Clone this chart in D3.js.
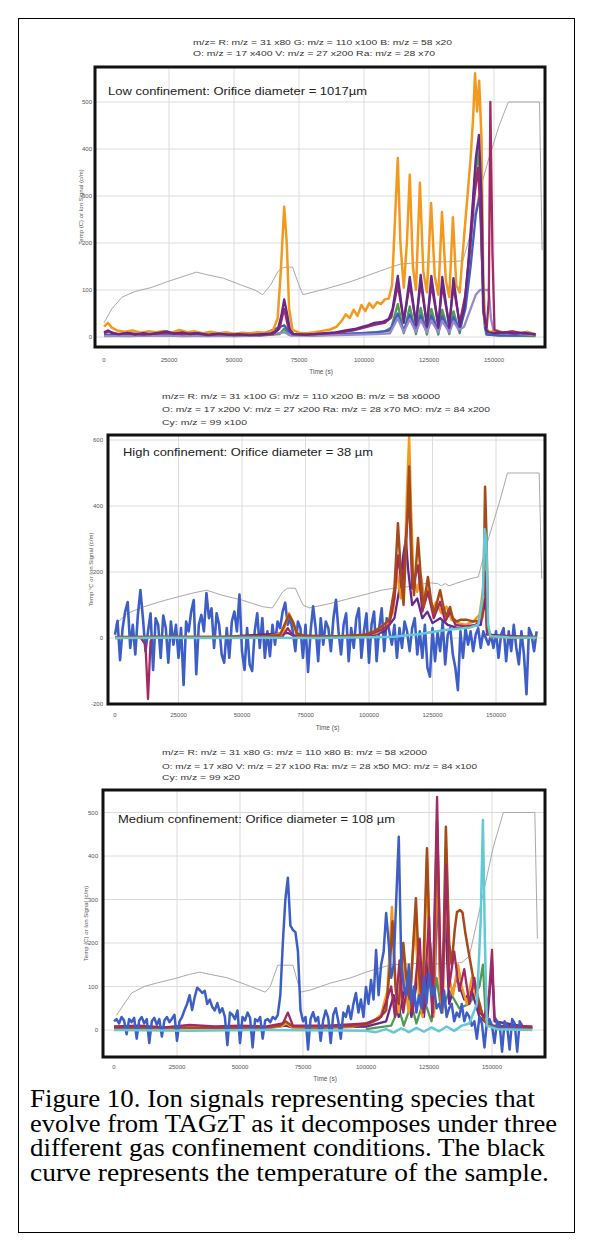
<!DOCTYPE html>
<html><head><meta charset="utf-8">
<script src="https://cdn.jsdelivr.net/npm/d3@7"></script>
<style>body{margin:0;background:#fff}svg{display:block}</style>
</head><body><svg id="c" width="593" height="1251"></svg>
<script>
// ---------------- DATA ----------------
const xTicks = [0, 25000, 50000, 75000, 100000, 125000, 150000];
const p1YTicks = [0, 100, 200, 300, 400, 500];
const p2YTicks = [-200, 0, 200, 400, 600];
const p3YTicks = [0, 100, 200, 300, 400, 500];

const p1Header = ["m/z= R: m/z = 31 x80 G: m/z = 110 x100 B: m/z = 58 x20",
                  "O: m/z = 17 x400 V: m/z = 27 x200 Ra: m/z = 28 x70"];
const p2Header = ["m/z= R: m/z = 31 x100 G: m/z = 110 x200 B: m/z = 58 x6000",
                  "O: m/z = 17 x200 V: m/z = 27 x200 Ra: m/z = 28 x70 MO: m/z = 84 x200",
                  "Cy: m/z = 99 x100"];
const p3Header = ["m/z= R: m/z = 31 x80 G: m/z = 110 x80 B: m/z = 58 x2000",
                  "O: m/z = 17 x80 V: m/z = 27 x100 Ra: m/z = 28 x50 MO: m/z = 84 x100",
                  "Cy: m/z = 99 x20"];
const panelTitles = ["Low confinement: Orifice diameter = 1017µm",
                     "High confinement: Orifice diameter = 38 µm",
                     "Medium confinement: Orifice diameter = 108 µm"];
const yTitles = ["Temp (C) or Ion Signal (c/m)", "Temp °C or Ion Signal (c/m)", "Temp (C) or Ion Signal (c/m)"];
const xTitle = "Time (s)";
const caption = ["Figure 10. Ion signals representing species that",
                 "evolve from TAGzT as it decomposes under three",
                 "different gas confinement conditions.  The black",
                 "curve represents the temperature of the sample."];

// Panel 1 (low confinement)
const p1Temp = [[0,30],[3000,60],[7000,85],[12000,97],[18000,105],[24000,117],[30000,128],[35500,138],[40000,132],[46000,125],[53000,110],[58000,100],[61000,90],[64000,110],[67000,140],[69000,148],[72500,149],[75000,110],[76500,90],[80000,95],[85000,102],[90000,110],[95000,118],[101000,130],[106000,140],[110000,148],[114000,155],[120000,158],[126000,160],[132000,160],[138000,162],[141000,220],[144000,300],[148000,380],[152000,450],[155500,500],[167500,500],[168500,185]];
const p1Orange = [[0,22],[1500,30],[3000,20],[5000,14],[8000,11],[11000,14],[14000,9],[17000,12],[20000,10],[23000,13],[26000,9],[29000,15],[32000,10],[35000,12],[38000,8],[41000,11],[44000,8],[47000,10],[50000,7],[53000,9],[56000,8],[59000,10],[62000,9],[65000,14],[66800,40],[68000,140],[69300,277],[70300,200],[71200,60],[72500,15],[75000,9],[78000,8],[81000,10],[84000,13],[87000,16],[89500,22],[91500,35],[93000,48],[94500,40],[96000,58],[97500,45],[99000,68],[100500,55],[102000,72],[103500,62],[105000,74],[106500,70],[108000,80],[109500,82],[110800,110],[112000,260],[113000,381],[114000,200],[115300,105],[116500,200],[117600,345],[118800,150],[120000,100],[121500,328],[122800,140],[124200,95],[125800,285],[127200,130],[128600,90],[130000,266],[131500,120],[132800,85],[134200,255],[135500,110],[136800,95],[138000,180],[139500,280],[141000,380],[142000,470],[142700,561],[143500,480],[144300,545],[145200,420],[145900,120],[146600,25],[148000,10],[151000,14],[154000,9],[157000,12],[160000,8],[163000,11],[166000,6]];
const p1Purple = [[0,10],[1500,14],[3000,8],[6000,6],[9000,9],[12000,5],[15000,8],[18000,6],[21000,9],[24000,12],[27000,7],[30000,10],[33000,6],[36000,8],[40000,5],[44000,7],[48000,5],[52000,6],[56000,4],[60000,6],[64000,7],[66800,15],[68200,45],[69300,80],[70400,50],[71500,15],[73000,6],[77000,5],[81000,6],[85000,8],[89000,10],[93000,14],[97000,18],[101000,24],[104000,30],[107000,32],[109500,38],[111000,60],[113000,130],[115300,30],[117600,128],[120000,25],[121800,132],[124200,22],[125900,130],[128600,20],[130100,128],[132800,20],[134400,125],[136800,22],[138500,60],[140000,150],[141500,260],[143000,380],[144200,430],[145200,300],[146000,60],[147000,15],[148000,10],[150000,8],[154000,10],[158000,7],[162000,9],[166000,5]];
const p1Magenta = [[0,8],[2000,12],[5000,6],[10000,8],[15000,5],[20000,7],[25000,9],[30000,6],[35000,8],[40000,4],[45000,6],[50000,4],[55000,5],[60000,4],[65000,6],[67500,18],[69300,60],[70800,22],[72500,6],[78000,5],[84000,7],[90000,9],[96000,14],[100000,20],[104000,26],[108000,30],[110500,42],[113000,110],[115300,35],[117600,112],[120000,30],[121800,115],[124200,28],[125900,112],[128600,25],[130100,110],[132800,25],[134400,108],[136800,30],[139000,90],[141000,200],[142500,300],[143800,360],[145000,250],[146000,50],[147200,20],[148000,80],[148600,500],[149400,180],[150200,15],[153000,9],[157000,12],[161000,8],[166000,6]];
const p1Green = [[0,3],[10000,2],[20000,4],[30000,2],[40000,3],[50000,2],[60000,3],[67500,6],[69300,18],[71000,5],[80000,3],[90000,5],[100000,8],[108000,12],[110500,20],[113000,70],[115300,8],[117600,65],[120000,6],[121800,62],[124200,5],[125900,60],[128600,5],[130100,58],[132800,6],[134400,55],[136800,8],[139000,80],[141000,200],[142500,330],[143600,400],[144800,300],[145800,60],[147000,5],[155000,3],[166000,2]];
const p1Violet = [[0,2],[20000,3],[40000,2],[60000,3],[69300,10],[72000,3],[90000,4],[105000,6],[110000,8],[113000,40],[115300,10],[117600,38],[120000,10],[121800,36],[124200,10],[125900,35],[128600,10],[130100,34],[132800,10],[134400,33],[136500,15],[138500,22],[141000,60],[143000,90],[144600,100],[148000,100],[148800,40],[150000,10],[166000,4]];
const p1Blue = [[0,5],[15000,4],[30000,6],[45000,3],[60000,4],[69300,25],[72000,5],[90000,6],[105000,10],[110000,14],[113000,50],[115300,12],[117600,48],[120000,12],[121800,46],[124200,12],[125900,45],[128600,12],[130100,44],[132800,12],[134400,42],[136800,14],[139000,60],[141000,150],[143000,260],[144500,300],[145500,150],[146500,20],[147500,5],[152000,3],[166000,4]];

// Panel 2 (high confinement)
const p2Temp = [[0,40],[5000,75],[11000,94],[20000,115],[30000,135],[36000,145],[42000,130],[50000,115],[58000,95],[62000,91],[66000,140],[68000,151],[71000,151],[74000,100],[76500,91],[85000,105],[95000,125],[105000,145],[110000,151],[113000,152],[118000,160],[124000,167],[127000,165],[128500,158],[130000,165],[131500,158],[134000,165],[140000,180],[143000,185],[147000,300],[151600,418],[154500,500],[167000,500],[168000,180]];
const p2BlueStep = 1000;
const p2Blue = [10,52,-67,30,80,109,-30,40,-50,70,145,60,-40,20,75,-97,60,40,-60,68,30,-75,50,-20,40,-60,30,-142,50,20,80,115,-110,40,70,20,136,60,90,-30,75,40,-50,-75,30,-60,50,80,20,132,-40,-97,30,-80,-100,20,75,-30,60,-60,20,-55,40,-20,50,30,80,107,40,60,20,-40,50,30,-60,40,-103,20,96,30,-70,60,-20,50,30,-40,60,116,20,-50,40,75,-70,30,-30,60,90,-60,20,75,-75,40,80,-70,30,90,-40,60,20,-20,40,-60,30,-30,50,20,-40,30,60,-50,20,-60,40,-90,-117,30,-70,20,-40,50,-80,10,30,-50,-90,-158,20,-60,30,-20,20,-40,10,30,-30,20,0,-20,10,-30,20,-60,10,30,-70,20,-40,40,-30,-80,20,-50,-170,30,10,-40,20];
const p2Magenta = [[0,0],[10000,2],[12000,-20],[13000,-185],[14000,-10],[15000,3],[30000,2],[50000,3],[66000,5],[68000,30],[70000,8],[90000,5],[100000,10],[105000,25],[108000,40],[110000,120],[111400,250],[113000,150],[114500,300],[115800,430],[117000,150],[119300,220],[121000,80],[123200,140],[125500,60],[128000,110],[130000,50],[132000,80],[134000,40],[138000,35],[142000,40],[144500,60],[145700,200],[146500,20],[148000,5],[166000,3]];
const p2Brown = [[0,3],[20000,4],[40000,3],[60000,5],[65000,10],[67000,45],[68500,70],[70000,50],[71500,15],[75000,5],[90000,6],[98000,10],[102000,20],[105000,35],[108000,55],[110000,150],[111400,348],[112500,200],[113600,100],[115000,350],[115800,520],[116800,250],[117700,130],[119300,303],[120700,150],[121500,95],[123200,185],[124500,110],[125700,75],[128000,145],[129300,95],[130300,65],[131900,94],[133000,60],[134500,50],[136000,55],[138600,55],[141000,50],[143000,52],[144500,60],[145200,200],[145700,458],[146300,300],[146800,30],[148000,5],[155000,4],[166000,3]];
const p2Orange = [[0,2],[30000,3],[60000,4],[66000,15],[68500,75],[70500,40],[72000,5],[95000,5],[103000,15],[107000,35],[109500,80],[111000,200],[112500,120],[114000,200],[115000,450],[115800,609],[116600,380],[117500,180],[119000,140],[120400,190],[122000,110],[123500,150],[125000,85],[126500,110],[128500,75],[130500,95],[132500,55],[135000,45],[138000,40],[141000,50],[143500,70],[145000,150],[145700,250],[146500,20],[148000,3],[166000,2]];
const p2Purple = [[0,1],[40000,2],[68000,15],[72000,2],[100000,5],[106000,20],[110000,60],[112000,150],[113500,250],[114500,300],[115500,200],[117000,100],[119000,120],[121000,60],[123000,80],[125000,45],[128000,60],[131000,40],[135000,30],[140000,35],[144000,40],[145700,120],[146500,10],[166000,1]];
const p2Cyan = [[0,0],[20000,1],[40000,0],[60000,1],[80000,0],[100000,2],[110000,4],[115000,8],[120000,12],[125000,18],[130000,24],[135000,28],[140000,32],[143000,40],[144800,120],[145500,330],[146200,300],[146900,40],[147800,5],[155000,2],[166000,1]];

// Panel 3 (medium confinement)
const p3Temp = [[1000,34],[7000,85],[12000,100],[17000,108],[24000,118],[30000,128],[34000,133],[38000,128],[45000,120],[52000,105],[60000,87],[62000,100],[65000,149],[71000,149],[74000,87],[78000,92],[86000,108],[94000,120],[100000,133],[104000,140],[110000,150],[120000,153],[130000,152],[138000,155],[141000,170],[146000,300],[150500,420],[154500,500],[167000,500],[168000,210]];
const p3BlueStep = 1000;
const p3Blue = [20,25,15,30,22,-10,25,18,28,-20,22,30,15,25,-30,20,28,12,25,-15,22,30,18,26,35,-25,20,30,46,60,80,46,75,97,92,85,90,60,70,53,45,62,40,50,30,-35,40,35,25,45,-30,30,22,40,28,-40,25,20,30,-20,22,25,18,30,25,35,80,200,300,350,240,230,225,180,46,20,30,-45,25,41,20,30,-25,22,45,28,-30,35,50,20,-20,40,30,55,25,60,85,40,70,30,99,60,115,70,184,80,150,180,269,200,120,150,300,444,150,100,80,150,60,100,40,80,50,120,60,130,80,100,50,60,40,90,30,50,60,20,40,30,60,20,40,30,10,20,-20,30,15,-40,20,25,10,-30,20,15,-50,20,10,-45,25,15,-50,20,10];
const p3Brown = [[0,5],[20000,6],[40000,5],[60000,6],[66000,10],[68000,20],[71000,8],[90000,8],[100000,12],[105000,25],[108000,45],[109500,150],[110500,250],[111800,90],[113000,60],[114800,200],[116000,120],[117500,70],[119800,303],[121200,120],[122300,50],[124200,418],[125500,150],[126500,40],[128200,480],[129500,150],[130300,60],[131700,467],[133000,200],[134000,150],[135200,230],[136100,271],[137300,276],[138300,270],[139500,220],[141000,170],[142500,120],[144000,85],[145500,50],[147000,20],[149000,12],[152000,8],[160000,6],[166000,5]];
const p3Orange = [[0,3],[30000,4],[60000,5],[66000,8],[68500,15],[71000,5],[95000,8],[103000,20],[106000,35],[108500,90],[110300,283],[111500,120],[113000,40],[114500,180],[115500,100],[117000,40],[119500,250],[121000,80],[122500,30],[124200,400],[125500,100],[126800,30],[128200,430],[129500,90],[130500,40],[131700,420],[133000,120],[134500,80],[136500,150],[138000,100],[140000,60],[142000,120],[143500,80],[145000,60],[146500,30],[148000,10],[152000,5],[166000,4]];
const p3Magenta = [[0,8],[10000,10],[20000,6],[30000,12],[40000,8],[50000,10],[60000,8],[67000,15],[69000,40],[71000,10],[85000,10],[100000,15],[106000,30],[110000,100],[111500,30],[113300,160],[114800,40],[117000,130],[118500,40],[121300,210],[122800,40],[125000,260],[126300,30],[128200,536],[129300,200],[130200,50],[131800,380],[133000,100],[135000,180],[137000,90],[139000,140],[141000,60],[143000,120],[145000,40],[147000,30],[148800,80],[150000,184],[151000,30],[153000,10],[166000,8]];
const p3Purple = [[0,4],[30000,5],[60000,4],[68000,10],[72000,4],[100000,8],[108000,20],[111000,80],[113000,30],[116000,110],[118000,30],[121000,140],[123000,30],[125500,200],[127000,40],[128300,350],[129500,80],[131500,250],[133000,60],[136000,120],[139000,70],[142000,90],[145000,30],[148000,15],[150000,150],[151000,20],[166000,5]];
const p3Cyan = [[0,0],[30000,-2],[60000,0],[90000,-1],[100000,-2],[104000,-5],[108000,2],[111000,-6],[114000,4],[117000,-5],[120000,5],[123000,-4],[126000,6],[129000,-3],[132000,8],[135000,-2],[138000,10],[141000,15],[144000,60],[145500,250],[146400,483],[147200,200],[148000,10],[152000,2],[166000,0]];
const p3Green = [[100000,2],[110000,10],[113000,50],[115000,10],[118000,60],[120000,15],[123000,70],[126000,20],[128000,120],[130000,40],[133000,90],[137000,50],[141000,60],[145000,100],[146400,150],[147500,30],[150000,5]];

// ---------------- STYLE / LAYOUT ----------------
const C = {temp:"#a9a9a9", orange:"#f39a1e", purple:"#64298a", magenta:"#a22a62", green:"#4f9a54",
           violet:"#9a88c8", blue:"#3d5ec6", cyan:"#63c9d6", brown:"#a64a1a"};
const toPairs = (vals, step) => vals.map((v,i)=>[i*step, v]);

const panels = [
  {frame:[95,67,545,347], xr:[104,494], yd:[0,500], yr:[337,102], yticks:p1YTicks, ytickX:92,
   header:p1Header, hx:193, hy:[45,56], hw:[259,242], hfs:7,
   title:panelTitles[0], tx:108, ty:95, tw:259, tfs:10,
   ytitle:yTitles[0], ytx:83, xlabY:362, timeY:374,
   series:[[p1Temp,C.temp,1],[p1Green,C.green,2.3],[p1Blue,C.blue,2.3],[p1Violet,C.violet,2.3],[p1Orange,C.orange,2.5],[p1Magenta,C.magenta,2.3],[p1Purple,C.purple,2.3]]},
  {frame:[108,435,545,704], xr:[115,496], yd:[-200,600], yr:[704,440], yticks:p2YTicks, ytickX:103,
   header:p2Header, hx:162, hy:[399,412,425], hw:[278,328,85], hfs:7.5,
   title:panelTitles[1], tx:123, ty:456, tw:250, tfs:11,
   ytitle:yTitles[1], ytx:93, xlabY:717, timeY:730,
   series:[[p2Temp,C.temp,1],[toPairs(p2Blue,p2BlueStep),C.blue,2.6],[p2Purple,C.purple,2.3],[p2Orange,C.orange,2.5],[p2Magenta,C.magenta,2.3],[p2Brown,C.brown,2.5],[p2Cyan,C.cyan,2.5]]},
  {frame:[103,790,545,1057], xr:[114,492], yd:[0,500], yr:[1030,812.5], yticks:p3YTicks, ytickX:98,
   header:p3Header, hx:162, hy:[755,769,780], hw:[265,315,78], hfs:7.5,
   title:panelTitles[2], tx:118, ty:823, tw:277, tfs:11,
   ytitle:yTitles[2], ytx:88, xlabY:1069, timeY:1081,
   series:[[p3Temp,C.temp,1],[p3Green,C.green,2.3],[p3Purple,C.purple,2.3],[p3Orange,C.orange,2.5],[p3Brown,C.brown,2.5],[p3Magenta,C.magenta,2.3],[toPairs(p3Blue,p3BlueStep),C.blue,2.5],[p3Cyan,C.cyan,2.5]]}
];

// ---------------- DRAW ----------------
const svg = d3.select("#c");
svg.append("rect").attr("width",593).attr("height",1251).attr("fill","#fff");
svg.append("rect").attr("x",18.5).attr("y",18.5).attr("width",556).attr("height",1214)
   .attr("fill","none").attr("stroke","#000").attr("stroke-width",1);

const sans = "'Liberation Sans', Arial, sans-serif";

panels.forEach((p,pi)=>{
  const [fx0,fy0,fx1,fy1] = p.frame;
  const x = d3.scaleLinear().domain([0,150000]).range(p.xr);
  const y = d3.scaleLinear().domain(p.yd).range(p.yr);
  const g = svg.append("g");
  const cid = "clip"+pi;
  svg.append("defs").append("clipPath").attr("id",cid)
     .append("rect").attr("x",fx0).attr("y",fy0).attr("width",fx1-fx0).attr("height",fy1-fy0);

  p.header.forEach((t,i)=>{
    g.append("text").attr("x",p.hx).attr("y",p.hy[i]).text(t)
     .attr("font-family",sans).attr("font-size",p.hfs).attr("fill","#333")
     .attr("textLength",p.hw[i]).attr("lengthAdjust","spacingAndGlyphs");
  });

  const grid = g.append("g").attr("clip-path",`url(#${cid})`);
  grid.selectAll("line.v").data(xTicks.filter(d=>d>0)).join("line")
    .attr("x1",d=>x(d)).attr("x2",d=>x(d)).attr("y1",fy0).attr("y2",fy1)
    .attr("stroke","#dcdcdc").attr("stroke-width",1);
  grid.selectAll("line.h").data(p.yticks).join("line")
    .attr("x1",fx0).attr("x2",fx1).attr("y1",d=>y(d)).attr("y2",d=>y(d))
    .attr("stroke","#dcdcdc").attr("stroke-width",1);

  const line = d3.line().x(d=>x(d[0])).y(d=>y(d[1]));
  const lg = g.append("g").attr("clip-path",`url(#${cid})`);
  p.series.forEach(([data,col,w])=>{
    lg.append("path").attr("d",line(data)).attr("fill","none").attr("stroke",col)
      .attr("stroke-width",w).attr("stroke-linejoin","round");
  });

  g.append("rect").attr("x",fx0).attr("y",fy0).attr("width",fx1-fx0).attr("height",fy1-fy0)
   .attr("fill","none").attr("stroke","#111").attr("stroke-width",3);

  g.append("text").attr("x",p.tx).attr("y",p.ty).text(p.title)
   .attr("font-family",sans).attr("font-size",p.tfs).attr("fill","#222")
   .attr("textLength",p.tw).attr("lengthAdjust","spacingAndGlyphs");

  g.selectAll("text.xt").data(xTicks).join("text")
   .attr("x",d=>x(d)).attr("y",p.xlabY).attr("text-anchor","middle")
   .attr("font-family",sans).attr("font-size",6).attr("fill","#555").text(d=>d3.format("d")(d));
  g.selectAll("text.yt").data(p.yticks).join("text")
   .attr("x",p.ytickX).attr("y",d=>y(d)+2).attr("text-anchor","end")
   .attr("font-family",sans).attr("font-size",6).attr("fill","#555").text(d=>d);
  g.append("text").attr("x",(p.xr[0]+p.xr[1])/2+22).attr("y",p.timeY).attr("text-anchor","middle")
   .attr("font-family",sans).attr("font-size",6.5).attr("fill","#555").text(xTitle);
  const cy = (fy0+fy1)/2;
  g.append("text").attr("transform",`translate(${p.ytx},${cy}) rotate(-90)`).attr("text-anchor","middle")
   .attr("font-family",sans).attr("font-size",6).attr("fill","#555").text(p.ytitle);
});

// caption
const capW = [505,527,515,519];
caption.forEach((t,i)=>{
  svg.append("text").attr("x",30).attr("y",1107+i*24.7).text(t)
    .attr("font-family","'Liberation Serif', 'Times New Roman', Times, serif").attr("font-size",24.5).attr("fill","#000")
    .attr("textLength",capW[i]).attr("lengthAdjust","spacingAndGlyphs");
});
</script></body></html>
